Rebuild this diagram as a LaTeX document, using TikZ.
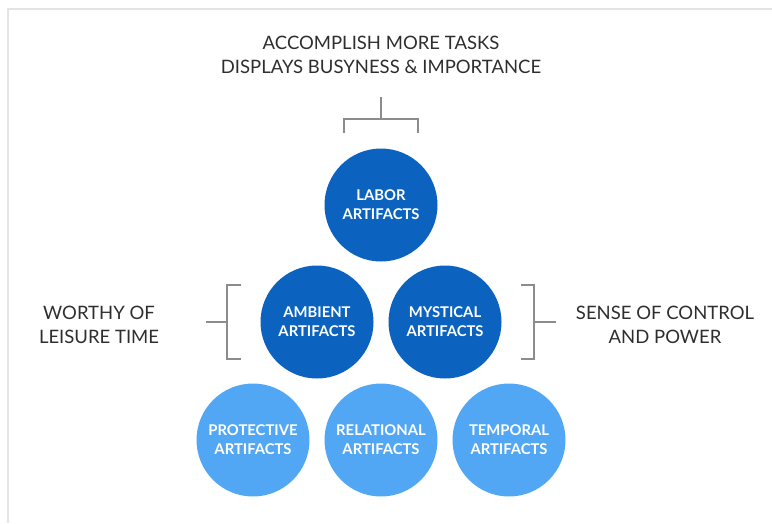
\documentclass[tikz,border=0pt]{standalone}
\usepackage{fontspec}
\setmainfont{Lato}
\usepackage{tikz}
\usetikzlibrary{arrows,shapes}
\definecolor{deepblue}{HTML}{0B63BF}
\definecolor{skyblue}{HTML}{52A7F4}
\definecolor{inkgray}{HTML}{2E2E2E}
\definecolor{rulegray}{HTML}{8C8C8C}
\definecolor{framegray}{HTML}{E4E4E4}
\tikzstyle{artifact}=[circle,minimum size=113pt,inner sep=0pt,text=white,align=center,
  font=\fontsize{14.8}{19}\selectfont\bfseries]
\tikzstyle{upper}=[artifact,fill=deepblue]
\tikzstyle{lower}=[artifact,fill=skyblue]
\tikzstyle{caption}=[text=inkgray,align=center,font=\fontsize{18.5}{24}\selectfont]
\tikzstyle{bracket} = [draw,rulegray,line width=1.1pt,-]

\begin{document}
\begin{tikzpicture}[x=1pt,y=-1pt]
    \useasboundingbox (0,0) rectangle (772,523);
    % Frame along the top and left edge
    \draw[framegray,line width=1.5pt] (8,523) -- (8,9) -- (772,9);
    % First we draw the artifact circles
    \foreach \pos/\name/\word in {{(381,205)/labor/LABOR}, {(317,322)/ambient/AMBIENT}, {(445,322)/mystical/MYSTICAL}}
        \node[upper] (\name) at \pos {\word\\ARTIFACTS};
    \foreach \pos/\name/\word in {{(253,440)/protective/PROTECTIVE}, {(381,440)/relational/RELATIONAL}, {(509,440)/temporal/TEMPORAL}}
        \node[lower] (\name) at \pos {\word\\ARTIFACTS};
    % Captions
    \node[caption] (tasks) at (381,55) {ACCOMPLISH MORE TASKS\\DISPLAYS BUSYNESS \& IMPORTANCE};
    \node[caption] (leisure) at (99,325) {WORTHY OF\\LEISURE TIME};
    \node[caption] (control) at (665,325) {SENSE OF CONTROL\\AND POWER};
    % Bracket corners
    \coordinate (ts) at (381,97);
    \coordinate (tm) at (381,119);
    \coordinate (tl) at (344,119);
    \coordinate (tr) at (418,119);
    \coordinate (tla) at (344,133);
    \coordinate (tra) at (418,133);
    \coordinate (ls) at (206,322);
    \coordinate (lm) at (227,322);
    \coordinate (lt) at (227,285);
    \coordinate (lb) at (227,359);
    \coordinate (lta) at (241,285);
    \coordinate (lba) at (241,359);
    \coordinate (rs) at (556,322);
    \coordinate (rm) at (534,322);
    \coordinate (rt) at (534,285);
    \coordinate (rb) at (534,359);
    \coordinate (rta) at (521,285);
    \coordinate (rba) at (521,359);
    % Draw the brackets
    \path[bracket] (ts) -- (tm);
    \path[bracket] (tla) -- (tl) -- (tr) -- (tra);
    \path[bracket] (ls) -- (lm);
    \path[bracket] (lta) -- (lt) -- (lb) -- (lba);
    \path[bracket] (rs) -- (rm);
    \path[bracket] (rta) -- (rt) -- (rb) -- (rba);
\end{tikzpicture}
\end{document}
